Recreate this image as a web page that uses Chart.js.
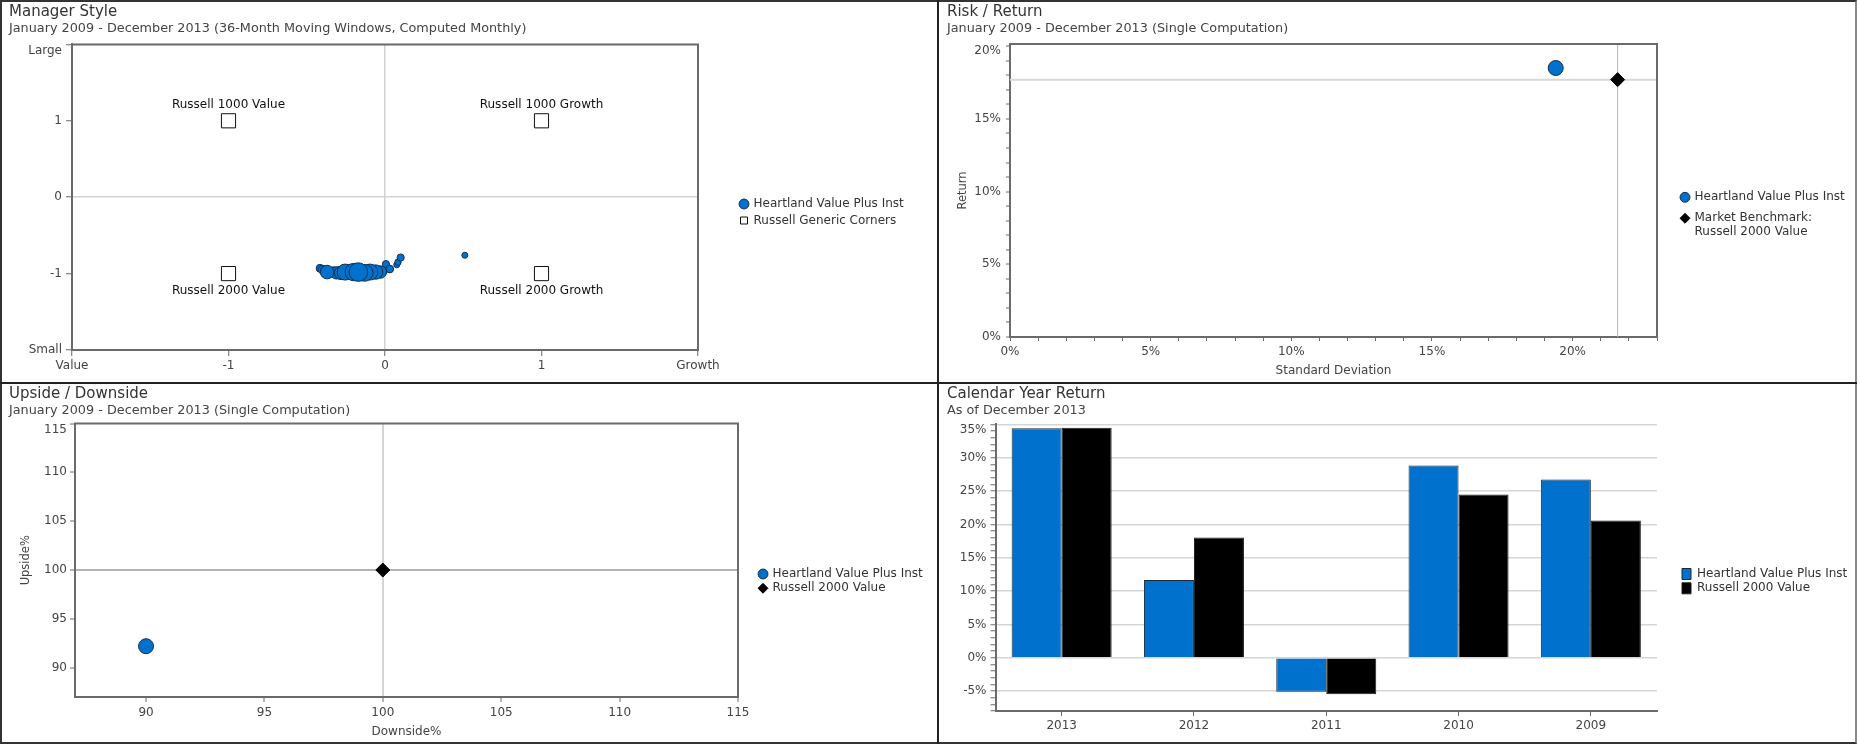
<!DOCTYPE html>
<html><head><meta charset="utf-8">
<script src="https://cdn.jsdelivr.net/npm/chart.js@4.4.1/dist/chart.umd.min.js"></script>
<style>
html,body{margin:0;padding:0;background:#fff;}
body{width:1860px;height:747px;position:relative;overflow:hidden;font-family:"DejaVu Sans",sans-serif;}
.frame{position:absolute;left:0;top:0;width:1857px;height:744px;box-sizing:border-box;border-left:2px solid #333;border-top:2px solid #333;border-right:2px solid #8a8a8a;border-bottom:2px solid #333;}
.vdiv{position:absolute;left:937px;top:0;width:2px;height:744px;background:#222;}
.hdiv{position:absolute;left:0;top:382px;width:1857px;height:2px;background:#222;}
canvas{position:absolute;}
</style></head><body>
<div class="frame"></div><div class="vdiv"></div><div class="hdiv"></div>
<canvas id="c1" width="935" height="380" style="left:2px;top:2px"></canvas>
<canvas id="c2" width="914" height="380" style="left:940px;top:2px"></canvas>
<canvas id="c3" width="935" height="357" style="left:2px;top:385px"></canvas>
<canvas id="c4" width="914" height="357" style="left:940px;top:385px"></canvas>
<script>
// ---------- DATA ----------
// Manager Style (36-month moving windows)
const styleName = 'Heartland Value Plus Inst';
const styleX = [0.51, 0.075, 0.083, 0.10, 0.006, 0.03, -0.415, -0.40, -0.38, -0.02, -0.33, -0.03, -0.31, -0.37, -0.28, -0.06, -0.22, -0.255, -0.096, -0.13, -0.20, -0.17];
const styleY = [-0.76, -0.885, -0.85, -0.79, -0.876, -0.94, -0.93, -0.95, -0.96, -0.97, -0.98, -0.98, -0.99, -0.98, -0.99, -0.98, -0.98, -0.98, -0.98, -0.99, -0.98, -0.98];
const styleSize = [3, 3, 3.2, 3.6, 3.6, 3.9, 3.9, 4.3, 4.7, 5, 5.2, 6.2, 6.2, 6.8, 6.8, 7.2, 7.5, 8, 8, 8.4, 8.7, 9.3];
const cornerName = 'Russell Generic Corners';
const cornerLabels = ['Russell 1000 Value', 'Russell 1000 Growth', 'Russell 2000 Value', 'Russell 2000 Growth'];
const cornerX = [-1, 1, -1, 1];
const cornerY = [1, 1, -1, -1];
const styleXTicks = [-2, -1, 0, 1, 2];
const styleXTickLabels = ['Value', '-1', '0', '1', 'Growth'];
const styleYTicks = [-2, -1, 0, 1, 2];
const styleYTickLabels = ['Small', '-1', '0', '1', 'Large'];

// Risk / Return
const rrNames = ['Heartland Value Plus Inst', 'Market Benchmark:\nRussell 2000 Value'];
const rrStdDev = [19.4, 21.6];
const rrReturn = [18.5, 17.7];

// Upside / Downside
const udNames = ['Heartland Value Plus Inst', 'Russell 2000 Value'];
const udDownside = [90.0, 100.0];
const udUpside = [92.2, 100.0];

// Calendar Year Return
const calYears = ['2013', '2012', '2011', '2010', '2009'];
const calSeries = ['Heartland Value Plus Inst', 'Russell 2000 Value'];
const calFund = [34.45, 11.65, -5.10, 28.85, 26.75];
const calBench = [34.52, 18.05, -5.50, 24.50, 20.58];

// ---------- STYLE ----------
const FONT = '"DejaVu Sans", "Liberation Sans", sans-serif';
const FS = 12;
const BLUE = '#0071CC';
const EDGE = '#14304f';
const AXIS = '#6a6a6a';
const TXT = '#444';
const CLEAR = 'rgba(0,0,0,0)';
Chart.defaults.font.family = FONT;
Chart.defaults.font.size = FS;
Chart.defaults.color = TXT;
Chart.defaults.animation = false;
Chart.defaults.events = [];
Chart.defaults.plugins.tooltip.enabled = false;

const measureCtx = document.createElement('canvas').getContext('2d');
function textWidth(texts, size) {
  measureCtx.font = size + 'px ' + FONT;
  let w = 0;
  texts.forEach(t => t.split('\n').forEach(s => { w = Math.max(w, measureCtx.measureText(s).width); }));
  return w;
}

const framePlugin = {
  id: 'frame',
  afterDraw(chart, args, opts) {
    if (!opts || !opts.show) return;
    const a = chart.chartArea, ctx = chart.ctx;
    ctx.save();
    ctx.strokeStyle = AXIS; ctx.lineWidth = 2;
    ctx.beginPath();
    ctx.moveTo(a.left - 1, a.top); ctx.lineTo(a.right, a.top); ctx.lineTo(a.right, a.bottom + 1);
    ctx.stroke();
    ctx.restore();
  }
};

function titles(main, sub, topPad, subBottom) {
  return {
    title: { display: true, text: main, align: 'start', color: '#333', font: { size: 15, weight: 'normal' }, padding: { top: topPad, bottom: 0 } },
    subtitle: { display: true, text: sub, align: 'start', color: '#444', font: { size: 12.8 }, padding: { top: 0, bottom: subBottom } }
  };
}
// legend on the right; returns [legendOptions, rightPadding]
function legendSetup(names, canvasW, legendLeft, pad, offset, boxW, extra) {
  const width = pad + boxW + FS / 2 + textWidth(names, FS) + 3;
  const o = {
    display: true, position: 'right', align: 'center', fullSize: false, maxWidth: width,
    title: { display: true, text: '', font: { size: 1 }, padding: { top: offset - 1.2, bottom: 0 } },
    labels: Object.assign({ color: '#333', font: { size: FS }, padding: pad, usePointStyle: true, boxWidth: boxW, boxHeight: boxW }, extra || {})
  };
  return [o, canvasW - legendLeft - width];
}
function gapAxis(w) {
  return { axis: 'y', type: 'linear', position: 'right', display: true, grid: { display: false }, border: { display: false }, ticks: { display: false }, afterFit: s => { s.width = w; } };
}
// top tick label is kept inside the plot (shifted down)
function topShiftFont(topValue, shift) {
  return c => (c.tick && Math.abs(c.tick.value - topValue) < 1e-9) ? { size: FS, lineHeight: 2 * shift / FS } : { size: FS };
}

// ---------- 1. Manager Style ----------
const cornerLabelPlugin = {
  id: 'cornerLabels',
  afterDatasetsDraw(chart) {
    const meta = chart.getDatasetMeta(1);
    const ctx = chart.ctx;
    ctx.save();
    ctx.font = FS + 'px ' + FONT; ctx.fillStyle = '#111'; ctx.textAlign = 'center'; ctx.textBaseline = 'middle';
    meta.data.forEach((pt, i) => {
      ctx.fillText(cornerLabels[i], pt.x, pt.y + (cornerY[i] > 0 ? -15.5 : 17.5));
    });
    ctx.restore();
  }
};
const L1 = legendSetup([styleName, cornerName], 935, 734, 4.5, 30.1, 7);
new Chart(document.getElementById('c1'), {
  type: 'bubble',
  data: {
    datasets: [
      { label: styleName, data: styleX.map((x, i) => ({ x: x, y: styleY[i], r: styleSize[i] })), backgroundColor: BLUE, borderColor: EDGE, borderWidth: 1, xAxisID: 'x', yAxisID: 'y' },
      { type: 'scatter', label: cornerName, data: cornerX.map((x, i) => ({ x: x, y: cornerY[i] })), pointStyle: 'rect', pointRadius: 10, backgroundColor: '#fff', borderColor: '#111', borderWidth: 1, xAxisID: 'x', yAxisID: 'y' }
    ]
  },
  options: {
    responsive: false,
    layout: { padding: { left: 7, top: 0, right: L1[1], bottom: 0 } },
    scales: {
      x: {
        type: 'linear', position: 'bottom', min: -2, max: 2,
        afterBuildTicks: s => { s.ticks = styleXTicks.map(v => ({ value: v })); },
        afterFit: s => { s.height = 32; },
        ticks: { autoSkip: false, maxRotation: 0, padding: 2.8, color: TXT, callback: v => styleXTickLabels[styleXTicks.indexOf(v)] },
        grid: { color: c => (c.tick && c.tick.value === 0) ? '#d2d2d2' : CLEAR, lineWidth: 1.5, tickColor: AXIS, tickWidth: 1, tickLength: 6 },
        border: { color: AXIS, width: 2 }
      },
      y: {
        type: 'linear', position: 'left', min: -2, max: 2,
        afterBuildTicks: s => { s.ticks = styleYTicks.map(v => ({ value: v })); },
        afterFit: s => { s.width = 63; },
        ticks: { autoSkip: false, padding: 4, color: TXT, font: topShiftFont(2, 6.5),
          callback: v => { const t = styleYTickLabels[styleYTicks.indexOf(v)]; return v === 2 ? ['', t] : t; } },
        grid: { color: c => (c.tick && c.tick.value === 0) ? '#d2d2d2' : CLEAR, lineWidth: 1.5, tickColor: AXIS, tickWidth: 1, tickLength: 6 },
        border: { color: AXIS, width: 2 }
      },
      gap: gapAxis(38)
    },
    plugins: Object.assign(titles('Manager Style', 'January 2009 - December 2013 (36-Month Moving Windows, Computed Monthly)', 1, 8.04), {
      legend: L1[0],
      frame: { show: true }
    })
  },
  plugins: [framePlugin, cornerLabelPlugin]
});

// ---------- 2. Risk / Return ----------
const crosshairPlugin = {
  id: 'crosshair',
  beforeDatasetsDraw(chart) {
    const a = chart.chartArea, ctx = chart.ctx;
    const px = chart.scales.x.getPixelForValue(rrStdDev[1]);
    const py = chart.scales.y.getPixelForValue(rrReturn[1]);
    ctx.save();
    ctx.strokeStyle = '#d9d9d9'; ctx.lineWidth = 2;
    ctx.beginPath(); ctx.moveTo(a.left, py); ctx.lineTo(a.right, py); ctx.stroke();
    ctx.strokeStyle = '#b5b5b5'; ctx.lineWidth = 1;
    ctx.beginPath(); ctx.moveTo(px, a.top); ctx.lineTo(px, a.bottom); ctx.stroke();
    ctx.restore();
  }
};
function rrLabels(chart) {
  const items = Chart.defaults.plugins.legend.labels.generateLabels(chart);
  items.forEach(it => { if (typeof it.text === 'string' && it.text.indexOf('\n') >= 0) it.text = it.text.split('\n'); });
  return items;
}
const L2 = legendSetup(rrNames, 914, 732.5, 9, 50.6, 7, { font: { size: FS, lineHeight: 14 / FS }, generateLabels: rrLabels });
new Chart(document.getElementById('c2'), {
  type: 'scatter',
  data: {
    datasets: [
      { label: rrNames[0], data: [{ x: rrStdDev[0], y: rrReturn[0] }], pointStyle: 'circle', pointRadius: 7.5, backgroundColor: BLUE, borderColor: EDGE, borderWidth: 1, xAxisID: 'x', yAxisID: 'y' },
      { label: rrNames[1], data: [{ x: rrStdDev[1], y: rrReturn[1] }], pointStyle: 'rectRot', pointRadius: 7, backgroundColor: '#000', borderColor: '#000', borderWidth: 1, xAxisID: 'x', yAxisID: 'y' }
    ]
  },
  options: {
    responsive: false,
    layout: { padding: { left: 7, top: 0, right: L2[1], bottom: 0 } },
    scales: {
      x: {
        type: 'linear', position: 'bottom', min: 0, max: 23,
        afterFit: s => { s.height = 45; },
        ticks: { stepSize: 1, autoSkip: false, includeBounds: false, maxRotation: 0, padding: 3.5, color: TXT, callback: v => (v % 5 === 0 ? v + '%' : '') },
        grid: { color: CLEAR, tickColor: AXIS, tickWidth: 1, tickLength: 4 },
        border: { color: AXIS, width: 2 },
        title: { display: true, text: 'Standard Deviation', color: TXT, font: { size: 12 }, padding: { top: 0, bottom: 3.8 } }
      },
      y: {
        type: 'linear', position: 'left', min: 0, max: 20.15,
        afterFit: s => { s.width = 63; },
        ticks: { stepSize: 1, autoSkip: false, includeBounds: false, padding: 5, color: TXT, font: topShiftFont(20, 4.3),
          callback: v => (v % 5 === 0 ? (v === 20 ? ['', v + '%'] : v + '%') : '') },
        grid: { color: c => (c.tick && c.tick.value === 0) ? '#d9d9d9' : CLEAR, lineWidth: 2, tickColor: AXIS, tickWidth: 1, tickLength: 4 },
        border: { color: AXIS, width: 2 },
        title: { display: true, text: 'Return', color: TXT, font: { size: 11.5 }, padding: { top: 9, bottom: 0 } }
      },
      gap: gapAxis(15.5)
    },
    plugins: Object.assign(titles('Risk / Return', 'January 2009 - December 2013 (Single Computation)', 1, 7.64), {
      legend: L2[0],
      frame: { show: true }
    })
  },
  plugins: [framePlugin, crosshairPlugin]
});

// ---------- 3. Upside / Downside ----------
const L3 = legendSetup(udNames, 935, 755.2, 2.3, 41.8, 7);
new Chart(document.getElementById('c3'), {
  type: 'scatter',
  data: {
    datasets: [
      { label: udNames[0], data: [{ x: udDownside[0], y: udUpside[0] }], pointStyle: 'circle', pointRadius: 7.5, backgroundColor: BLUE, borderColor: EDGE, borderWidth: 1, xAxisID: 'x', yAxisID: 'y' },
      { label: udNames[1], data: [{ x: udDownside[1], y: udUpside[1] }], pointStyle: 'rectRot', pointRadius: 7, backgroundColor: '#000', borderColor: '#000', borderWidth: 1, xAxisID: 'x', yAxisID: 'y' }
    ]
  },
  options: {
    responsive: false,
    layout: { padding: { left: 7, top: 0, right: L3[1], bottom: 0 } },
    scales: {
      x: {
        type: 'linear', position: 'bottom', min: 87, max: 115,
        afterFit: s => { s.height = 45; },
        ticks: { stepSize: 5, autoSkip: false, includeBounds: false, maxRotation: 0, padding: 4.1, color: TXT },
        grid: { color: c => (c.tick && c.tick.value === 100) ? '#d4d4d4' : CLEAR, lineWidth: 2, tickColor: AXIS, tickWidth: 1, tickLength: 5 },
        border: { color: AXIS, width: 2 },
        title: { display: true, text: 'Downside%', color: TXT, font: { size: 12 }, padding: { top: 0, bottom: 3.1 } }
      },
      y: {
        type: 'linear', position: 'left', min: 87, max: 115,
        afterFit: s => { s.width = 66; },
        ticks: { stepSize: 5, autoSkip: false, includeBounds: false, padding: 3, color: TXT, font: topShiftFont(115, 6),
          callback: v => (v === 115 ? ['', String(v)] : String(v)) },
        grid: { color: c => (c.tick && c.tick.value === 100) ? '#b4b4b4' : CLEAR, lineWidth: 2, tickColor: AXIS, tickWidth: 1, tickLength: 5 },
        border: { color: AXIS, width: 2 },
        title: { display: true, text: 'Upside%', color: TXT, font: { size: 11.5 }, padding: { top: 10.5, bottom: 0 } }
      },
      gap: gapAxis(19.2)
    },
    plugins: Object.assign(titles('Upside / Downside', 'January 2009 - December 2013 (Single Computation)', 0, 5.14), {
      legend: L3[0],
      frame: { show: true }
    })
  },
  plugins: [framePlugin]
});

// ---------- 4. Calendar Year Return ----------
const L4 = legendSetup(calSeries, 914, 739.7, 2.3, 27.8, 9, { usePointStyle: false, boxWidth: 9, boxHeight: 11 });
new Chart(document.getElementById('c4'), {
  type: 'bar',
  data: {
    labels: calYears,
    datasets: [
      { label: calSeries[0], data: calFund, backgroundColor: BLUE, borderColor: '#1b2a3a', borderWidth: 1, xAxisID: 'x', yAxisID: 'y' },
      { label: calSeries[1], data: calBench, backgroundColor: '#000', borderColor: '#1b1b1b', borderWidth: 1, xAxisID: 'x', yAxisID: 'y' }
    ]
  },
  options: {
    responsive: false,
    datasets: { bar: { categoryPercentage: 0.756, barPercentage: 1.0 } },
    layout: { padding: { left: 7, top: 0, right: L4[1], bottom: 0 } },
    scales: {
      x: {
        type: 'category', position: 'bottom',
        afterFit: s => { s.height = 31; },
        ticks: { autoSkip: false, maxRotation: 0, padding: 2.5, color: TXT },
        grid: { offset: false, color: CLEAR, tickColor: AXIS, tickWidth: 1, tickLength: 5 },
        border: { color: AXIS, width: 2 }
      },
      y: {
        type: 'linear', position: 'left', min: -8, max: 35.15,
        afterFit: s => { s.width = 48.5; },
        ticks: { stepSize: 1, autoSkip: false, includeBounds: false, padding: 4, color: TXT, font: topShiftFont(35, 5),
          callback: v => (v % 5 === 0 ? (v === 35 ? ['', v + '%'] : v + '%') : '') },
        grid: { color: c => (c.tick && c.tick.value % 5 === 0) ? '#d6d6d6' : CLEAR, lineWidth: 1.5, tickColor: AXIS, tickWidth: 1, tickLength: 5 },
        border: { color: AXIS, width: 2 }
      },
      gap: gapAxis(22.7)
    },
    plugins: Object.assign(titles('Calendar Year Return', 'As of December 2013', 0, 5.14), {
      legend: L4[0]
    })
  }
});
</script>
</body></html>
